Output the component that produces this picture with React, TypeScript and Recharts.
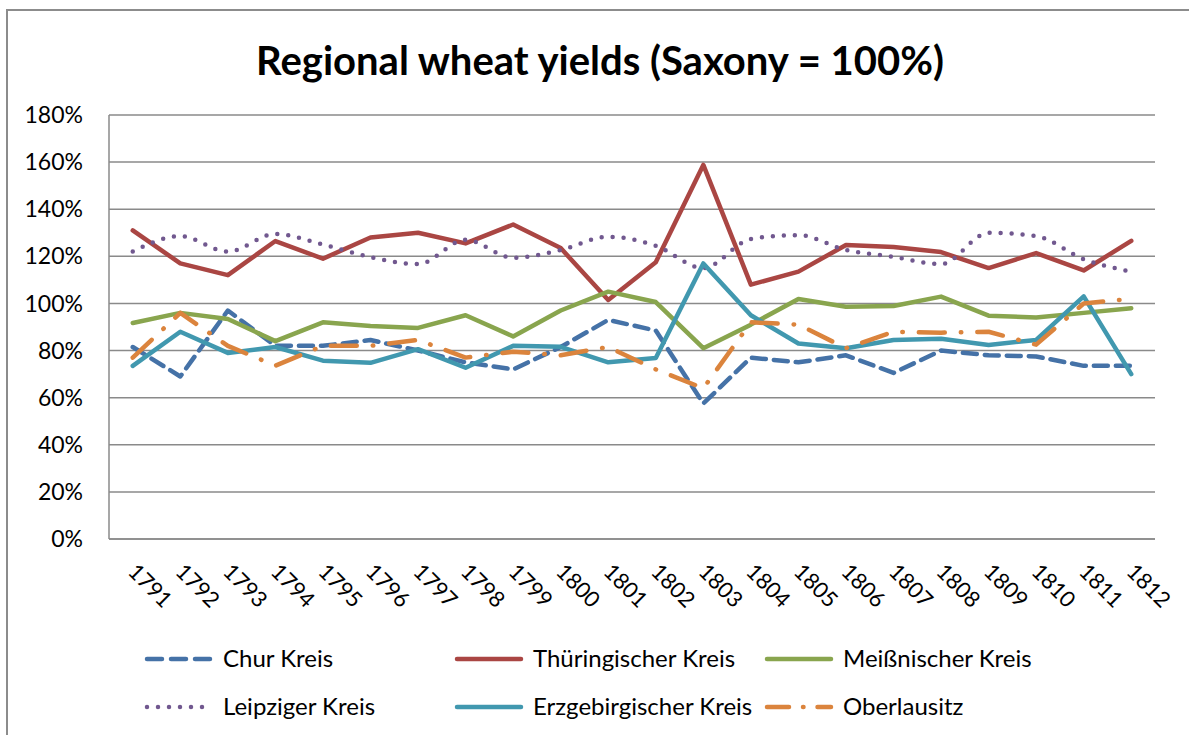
import React from 'react';
import { LineChart, Line, XAxis, YAxis, CartesianGrid, Legend } from 'recharts';

const years = ['1791','1792','1793','1794','1795','1796','1797','1798','1799','1800','1801','1802','1803','1804','1805','1806','1807','1808','1809','1810','1811','1812'];
const chur = [81.5, 69, 97, 82, 82, 84.5, 80, 75, 72, 81.5, 93, 88.5, 57.5, 77, 75, 78, 70.5, 80, 78, 77.5, 73.5, 73.5];
const thuer = [131, 117, 112, 126.5, 119, 128, 130, 125.5, 133.5, 123.5, 101.5, 117.5, 158.8, 108, 113.5, 124.8, 124, 121.8, 115, 121.4, 114, 126.6];
const meiss = [91.7, 96, 93.4, 84, 92, 90.4, 89.6, 95, 86, 97, 105, 100.6, 81, 91, 101.9, 98.6, 98.9, 102.9, 94.8, 94, 96, 98];
const leipzig = [122, 128.6, 122, 129.5, 125, 119.7, 116.7, 127, 119.4, 122.7, 128.3, 124.5, 115, 127.4, 129, 122.7, 119.8, 116.7, 130, 128.6, 118.8, 113.5];
const erz = [73.5, 88, 79, 81.5, 75.7, 74.8, 80.6, 72.7, 82, 81.6, 75, 76.8, 117, 95, 83, 81, 84.5, 85, 82.4, 84.5, 103, 70];
const ober = [77, 96, 82, 73.6, 82, 82, 84.5, 77, 79.5, 78, 81.5, 72, 64, 92, 91, 81, 88, 87.6, 88, 82.5, 100, 102];
const yTicks = [0, 20, 40, 60, 80, 100, 120, 140, 160, 180];

const data = years.map((y, i) => ({
  year: y,
  chur: chur[i],
  thuer: thuer[i],
  meiss: meiss[i],
  leipzig: leipzig[i],
  erz: erz[i],
  ober: ober[i],
}));

const FONT = 'Lato, sans-serif';

const series = [
  { key: 'chur', name: 'Chur Kreis', color: '#4572A7', dash: '14 8', legendDash: '15 9', type: 'linear' as const },
  { key: 'thuer', name: 'Thüringischer Kreis', color: '#AA4643', dash: undefined, legendDash: undefined, type: 'linear' as const },
  { key: 'meiss', name: 'Meißnischer Kreis', color: '#89A54E', dash: undefined, legendDash: undefined, type: 'linear' as const },
  { key: 'leipzig', name: 'Leipziger Kreis', color: '#71588F', dash: '0 11', legendDash: '0 11', type: 'monotone' as const },
  { key: 'erz', name: 'Erzgebirgischer Kreis', color: '#4198AF', dash: undefined, legendDash: undefined, type: 'linear' as const },
  { key: 'ober', name: 'Oberlausitz', color: '#DB843D', dash: '26 16 0.5 16', legendDash: '22 14 0.5 14', type: 'linear' as const },
];

const XTick = (props: any) => {
  const { x, y, payload } = props;
  const ax = x - 6;
  const ay = y + 26;
  return (
    <text x={ax} y={ay} transform={`rotate(45, ${ax}, ${ay})`} textAnchor="start" fontFamily={FONT} fontSize={22} fill="#000">
      {payload.value}
    </text>
  );
};

const legendCols = [147, 457, 767];
const legendRows = [659, 707];

const CustomLegend = () => (
  <svg width={1189} height={100} style={{ position: 'absolute', left: 0, top: 0, overflow: 'visible' }}>
    {series.map((s, i) => {
      const cx = legendCols[i % 3];
      const cy = legendRows[Math.floor(i / 3)];
      return (
        <g key={s.key}>
          <line x1={cx} x2={cx + 64} y1={cy} y2={cy} stroke={s.color} strokeWidth={4.5} strokeDasharray={s.legendDash} strokeLinecap="round" />
          <text x={cx + 76} y={cy + 8} fontFamily={FONT} fontSize={24} fill="#000">{s.name}</text>
        </g>
      );
    })}
  </svg>
);

export default function App() {
  return (
    <div style={{ position: 'absolute', left: 0, top: 0, width: 1189, height: 735, overflow: 'hidden', background: '#fff' }}>
      <div style={{ position: 'absolute', left: 6, top: 9, width: 1183, height: 726, borderLeft: '2px solid #8c8c8c', borderTop: '2px solid #8c8c8c', boxSizing: 'border-box' }} />
      <div style={{ position: 'absolute', left: 0, top: 34, width: 1200, textAlign: 'center', fontFamily: FONT, fontWeight: 700, fontSize: 40, color: '#000', lineHeight: '52px' }}>
        Regional wheat yields (Saxony = 100%)
      </div>
      <div style={{ position: 'absolute', left: 0, top: 0 }}>
        <LineChart width={1189} height={735} data={data} margin={{ top: 115, right: 34, left: 0, bottom: 116 }}>
          <CartesianGrid vertical={false} stroke="#8a8a8a" strokeWidth={1.5} />
          <XAxis dataKey="year" height={80} padding={{ left: 23.75, right: 23.75 }} axisLine={{ stroke: '#8a8a8a', strokeWidth: 1.5 }} tickLine={false} tick={<XTick />} interval={0} />
          <YAxis width={109} domain={[0, 180]} ticks={yTicks} tickFormatter={(v: number) => `${v}%`} axisLine={{ stroke: '#8a8a8a', strokeWidth: 1.5 }} tickLine={false} tickSize={0} tickMargin={26} tick={{ fontFamily: FONT, fontSize: 23, fill: '#000' }} interval={0} />
          <Legend content={() => <CustomLegend />} wrapperStyle={{ position: 'absolute', left: 0, top: 0, width: 1189, height: 0, overflow: 'visible' }} />
          {series.map((s) => (
            <Line key={s.key} dataKey={s.key} name={s.name} type={s.type} stroke={s.color} strokeWidth={4.5} strokeDasharray={s.dash} strokeLinecap="round" strokeLinejoin="round" dot={false} activeDot={false} isAnimationActive={false} />
          ))}
        </LineChart>
      </div>
    </div>
  );
}
